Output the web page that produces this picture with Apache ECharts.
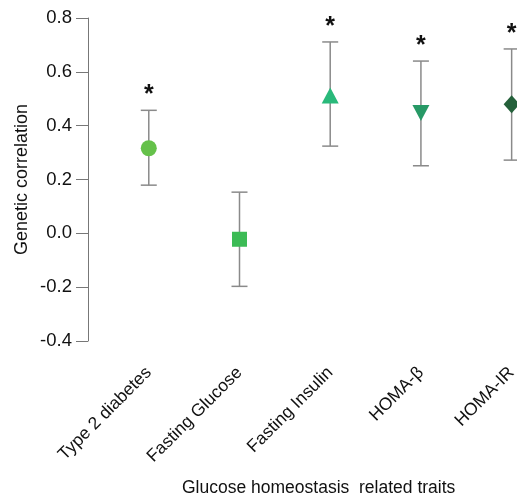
<!DOCTYPE html>
<html>
<head>
<meta charset="utf-8">
<script src="https://cdn.jsdelivr.net/npm/echarts@6/dist/echarts.min.js"></script>
<style>
  html, body { margin: 0; padding: 0; overflow: hidden; background: #fff; }
  #chart { width: 560px; height: 496px; }
</style>
</head>
<body>
<div id="chart"></div>
<script>
// genetic correlation with glucose homeostasis traits
const traits = ["Type 2 diabetes", "Fasting Glucose", "Fasting Insulin", "HOMA-\u03b2", "HOMA-IR"];
const estimates = [0.316, -0.022, 0.512, 0.447, 0.48];
const lowerCI = [0.179, -0.197, 0.324, 0.251, 0.272];
const upperCI = [0.457, 0.153, 0.711, 0.640, 0.685];
const significant = [true, false, true, true, true];
const yTicks = [-0.4, -0.2, 0.0, 0.2, 0.4, 0.6, 0.8];

const markerColors = ["#65c14a", "#3cbb55", "#29b97a", "#279966", "#24603a"];
const markerSymbols = ["circle", "rect", "triangle", "triangle", "diamond"];
const markerSizes = [[16, 16], [15, 15], [17, 16], [17, 16], [16, 18]];
const markerRotate = [0, 0, 0, 180, 0];

const font = "Liberation Sans, Arial, sans-serif";
const xPos = traits.map((t, i) => i + 1);

const chart = echarts.init(document.getElementById("chart"));

chart.setOption({
    animation: false,
    grid: { left: 88, top: 18, bottom: 155, right: 3 },
    xAxis: {
        type: "value",
        min: 0.33,
        max: 5.5,
        splitLine: { show: false },
        axisLine: { show: false },
        axisTick: { show: false },
        axisLabel: {
            customValues: xPos,
            rotate: 45,
            margin: 29,
            fontSize: 17.5,
            fontFamily: font,
            color: "#111",
            formatter: v => traits[Math.round(v) - 1] || ""
        }
    },
    yAxis: {
        type: "value",
        min: yTicks[0],
        max: yTicks[yTicks.length - 1],
        interval: 0.2,
        name: "Genetic correlation",
        nameLocation: "middle",
        nameGap: 57,
        nameMoveOverlap: false,
        nameTextStyle: { fontSize: 18, fontFamily: font, color: "#111" },
        splitLine: { show: false },
        axisLine: { show: true, lineStyle: { color: "#777", width: 1 } },
        axisTick: { show: true, length: 12, lineStyle: { color: "#777" } },
        axisLabel: {
            margin: 16,
            fontSize: 18.5,
            fontFamily: font,
            color: "#111",
            formatter: v => v.toFixed(1)
        }
    },
    graphic: [{
        type: "text",
        left: 182,
        top: 479,
        style: {
            text: "Glucose homeostasis  related traits",
            fontSize: 17.5,
            fontFamily: font,
            fill: "#111"
        }
    }],
    series: [
        {
            type: "custom",
            clip: false,
            data: xPos.map((x, i) => [x, lowerCI[i], upperCI[i], significant[i] ? 1 : 0]),
            renderItem: (params, api) => {
                const lo = api.coord([api.value(0), api.value(1)]);
                const hi = api.coord([api.value(0), api.value(2)]);
                const cap = 8;
                const style = { stroke: "#8a8a8a", lineWidth: 1.5 };
                const children = [
                    { type: "line", shape: { x1: lo[0], y1: lo[1], x2: hi[0], y2: hi[1] }, style },
                    { type: "line", shape: { x1: lo[0] - cap, y1: lo[1], x2: lo[0] + cap, y2: lo[1] }, style },
                    { type: "line", shape: { x1: hi[0] - cap, y1: hi[1], x2: hi[0] + cap, y2: hi[1] }, style }
                ];
                if (api.value(3)) {
                    children.push({
                        type: "text",
                        x: hi[0],
                        y: hi[1] - 15,
                        style: {
                            text: "*",
                            fontSize: 25,
                            fontWeight: "bold",
                            fontFamily: font,
                            fill: "#111",
                            align: "center",
                            verticalAlign: "middle"
                        }
                    });
                }
                return { type: "group", children };
            }
        },
        {
            type: "scatter",
            clip: false,
            z: 3,
            data: xPos.map((x, i) => ({
                value: [x, estimates[i]],
                symbol: markerSymbols[i],
                symbolSize: markerSizes[i],
                symbolRotate: markerRotate[i],
                itemStyle: { color: markerColors[i], opacity: 1 }
            }))
        }
    ]
});
</script>
</body>
</html>
